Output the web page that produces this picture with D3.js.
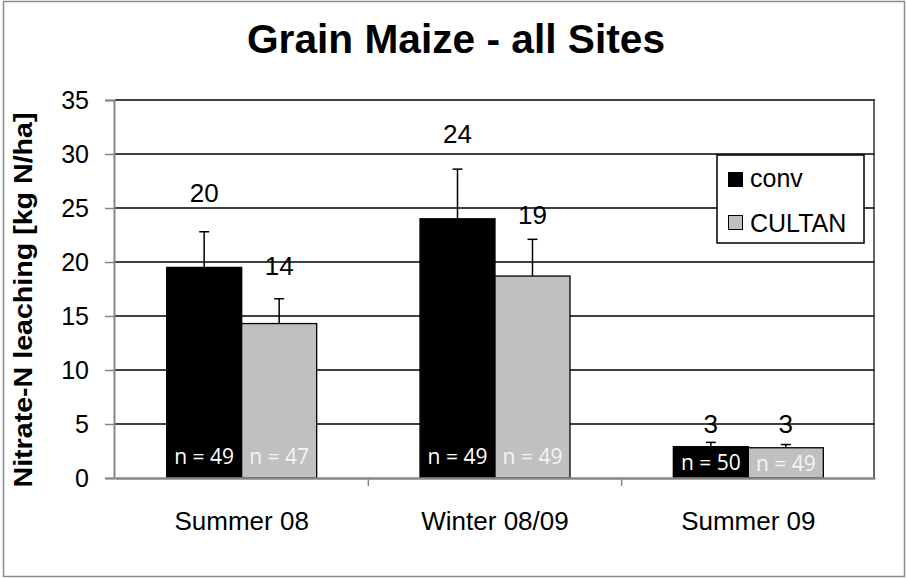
<!DOCTYPE html>
<html>
<head>
<meta charset="utf-8">
<script src="https://cdn.jsdelivr.net/npm/d3@7"></script>
<style>
  body { margin: 0; background: #fff; }
  text { font-family: "Liberation Sans", Arial, sans-serif; }
</style>
</head>
<body>
<div id="vis"></div>
<script>
// chart data
var categories = ["Summer 08", "Winter 08/09", "Summer 09"];
var seriesNames = ["conv", "CULTAN"];
var convValues = [19.5, 24.0, 2.9];
var cultanValues = [14.3, 18.7, 2.8];
var convErrors = [3.3, 4.6, 0.4];
var cultanErrors = [2.3, 3.4, 0.3];
var convLabels = ["20", "24", "3"];
var cultanLabels = ["14", "19", "3"];
// where each value label sits, in axis units
var convLabelAt = [26.4, 31.9, 5.0];
var cultanLabelAt = [19.6, 24.4, 5.0];
var convN = ["n = 49", "n = 49", "n = 50"];
var cultanN = ["n = 47", "n = 49", "n = 49"];
var yTicks = [0, 5, 10, 15, 20, 25, 30, 35];

var w = 907;
var h = 578;
var plotLeft = 115, plotRight = 875, plotTop = 100, plotBottom = 478;

var svg = d3.select("#vis").append("svg").attr("width", w).attr("height", h);

// outer frame
svg.append("rect")
  .attr("x", 3.5).attr("y", 1.5)
  .attr("width", w - 6).attr("height", h - 3)
  .attr("fill", "#fff")
  .attr("stroke", "#8c8c8c")
  .attr("stroke-width", 1.5);

var x = d3.scaleBand().domain(categories).range([plotLeft, plotRight]).paddingInner(0).paddingOuter(0);
var inner = d3.scaleBand().domain(seriesNames).range([0, 150]);
var groupOffset = (x.bandwidth() - 150) / 2;
var y = d3.scaleLinear().domain([0, 35]).range([plotBottom, plotTop]);

// gridlines
svg.append("g")
  .selectAll("line")
  .data(yTicks.slice(1))
  .enter()
  .append("line")
  .attr("x1", plotLeft).attr("x2", plotRight)
  .attr("y1", function (d) { return y(d); })
  .attr("y2", function (d) { return y(d); })
  .attr("stroke", "#000")
  .attr("stroke-width", 1.5);

// right border of plot area
svg.append("line")
  .attr("x1", plotRight - 1).attr("x2", plotRight - 1)
  .attr("y1", plotTop).attr("y2", plotBottom)
  .attr("stroke", "#333")
  .attr("stroke-width", 1.5);

// y axis
var yAxis = svg.append("g")
  .attr("transform", "translate(" + (plotLeft - 1) + ",0)")
  .call(d3.axisLeft(y).tickValues(yTicks).tickSize(9).tickPadding(16));
yAxis.select(".domain").attr("stroke", "#868686").attr("stroke-width", 2);
yAxis.selectAll(".tick line").attr("stroke", "#868686").attr("stroke-width", 1.5);
yAxis.selectAll("text")
  .attr("font-size", 25)
  .attr("fill", "#000")
  .style("font-family", "Liberation Sans, Arial, sans-serif");

// bars
var series = [
  { name: "conv", values: convValues, errors: convErrors, labels: convLabels, at: convLabelAt, n: convN, fill: "#000", nColor: "#fff" },
  { name: "CULTAN", values: cultanValues, errors: cultanErrors, labels: cultanLabels, at: cultanLabelAt, n: cultanN, fill: "#c0c0c0", nColor: "#f4f4f4" }
];

series.forEach(function (s) {
  var g = svg.append("g");
  var bx = function (d, i) { return x(categories[i]) + groupOffset + inner(s.name); };
  var bw = inner.bandwidth();

  g.selectAll("rect")
    .data(s.values)
    .enter()
    .append("rect")
    .attr("x", bx)
    .attr("y", function (d) { return y(d); })
    .attr("width", bw)
    .attr("height", function (d) { return y(0) - y(d); })
    .attr("fill", s.fill)
    .attr("stroke", "#000")
    .attr("stroke-width", 1.3);

  // error bars (upper only)
  g.selectAll("line.err")
    .data(s.values)
    .enter()
    .append("line")
    .attr("class", "err")
    .attr("x1", function (d, i) { return bx(d, i) + bw / 2; })
    .attr("x2", function (d, i) { return bx(d, i) + bw / 2; })
    .attr("y1", function (d) { return y(d); })
    .attr("y2", function (d, i) { return y(d + s.errors[i]); })
    .attr("stroke", "#000")
    .attr("stroke-width", 1.5);
  g.selectAll("line.cap")
    .data(s.values)
    .enter()
    .append("line")
    .attr("class", "cap")
    .attr("x1", function (d, i) { return bx(d, i) + bw / 2 - 5; })
    .attr("x2", function (d, i) { return bx(d, i) + bw / 2 + 5; })
    .attr("y1", function (d, i) { return y(d + s.errors[i]); })
    .attr("y2", function (d, i) { return y(d + s.errors[i]); })
    .attr("stroke", "#000")
    .attr("stroke-width", 1.5);

  // value labels
  g.selectAll("text.val")
    .data(s.labels)
    .enter()
    .append("text")
    .attr("class", "val")
    .attr("x", function (d, i) { return bx(d, i) + bw / 2; })
    .attr("y", function (d, i) { return y(s.at[i]); })
    .attr("dy", "0.35em")
    .attr("text-anchor", "middle")
    .attr("font-size", 26)
    .text(function (d) { return d; });

  // n labels, inside the bar base
  g.selectAll("text.n")
    .data(s.n)
    .enter()
    .append("text")
    .attr("class", "n")
    .attr("x", function (d, i) { return bx(d, i) + bw / 2; })
    .attr("y", function (d, i) { return Math.max(y(0) - 14, y(s.values[i]) + 23); })
    .attr("text-anchor", "middle")
    .attr("font-size", 21)
    .attr("fill", s.nColor)
    .style("font-family", "'Open Sans', 'Noto Sans', sans-serif")
    .text(function (d) { return d; });
});

// x axis
var xAxis = svg.append("g")
  .attr("transform", "translate(0," + plotBottom + ")")
  .call(d3.axisBottom(x).tickSize(0).tickPadding(33));
xAxis.select(".domain").attr("stroke", "#868686").attr("stroke-width", 2.5);
xAxis.selectAll("text")
  .attr("font-size", 26)
  .attr("fill", "#000")
  .attr("dy", 0)
  .style("font-family", "Liberation Sans, Arial, sans-serif");
xAxis.selectAll(".tick text").attr("y", 52);
// category separators
svg.append("g")
  .selectAll("line")
  .data(categories.slice(1))
  .enter()
  .append("line")
  .attr("x1", function (d) { return x(d); })
  .attr("x2", function (d) { return x(d); })
  .attr("y1", plotBottom)
  .attr("y2", plotBottom + 8)
  .attr("stroke", "#868686")
  .attr("stroke-width", 1.5);

// legend
var legend = svg.append("g").attr("transform", "translate(717,155)");
legend.append("rect")
  .attr("x", 0).attr("y", 0)
  .attr("width", 147).attr("height", 88)
  .attr("fill", "#fff")
  .attr("stroke", "#000")
  .attr("stroke-width", 1.5);
legend.selectAll("rect.key")
  .data(series)
  .enter()
  .append("rect")
  .attr("class", "key")
  .attr("x", 11.5)
  .attr("y", function (d, i) { return 17.5 + i * 43; })
  .attr("width", 14)
  .attr("height", 14)
  .attr("fill", function (d) { return d.fill; })
  .attr("stroke", "#000")
  .attr("stroke-width", 1);
legend.selectAll("text")
  .data(series)
  .enter()
  .append("text")
  .attr("x", 33)
  .attr("y", function (d, i) { return 32 + i * 45; })
  .attr("font-size", 25)
  .text(function (d) { return d.name; });

// title
svg.append("text")
  .attr("x", 456)
  .attr("y", 53)
  .attr("text-anchor", "middle")
  .attr("font-size", 40)
  .attr("font-weight", "bold")
  .attr("textLength", 418)
  .attr("lengthAdjust", "spacingAndGlyphs")
  .text("Grain Maize - all Sites");

// y axis title
svg.append("text")
  .attr("transform", "translate(32,300) rotate(-90)")
  .attr("text-anchor", "middle")
  .attr("font-size", 26)
  .attr("font-weight", "bold")
  .attr("textLength", 375)
  .attr("lengthAdjust", "spacingAndGlyphs")
  .text("Nitrate-N leaching [kg N/ha]");
</script>
</body>
</html>
